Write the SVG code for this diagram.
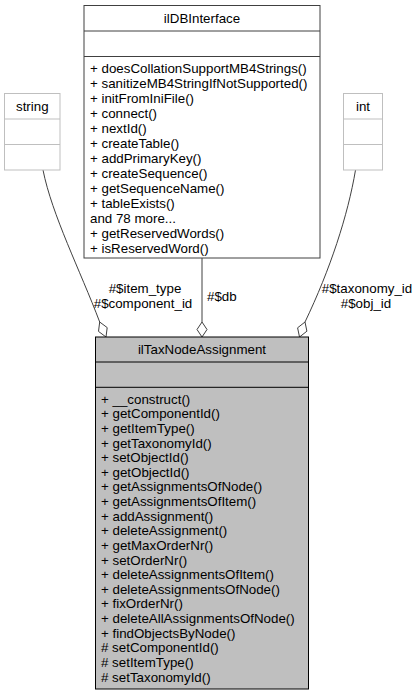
<svg xmlns="http://www.w3.org/2000/svg" width="418" height="697" viewBox="0 0 418 697">
<style>
text{font-family:"Liberation Sans",Arial,Helvetica,sans-serif;font-size:13.33px;fill:#000}
.c{text-anchor:middle}
.edge{fill:none;stroke:#404040;stroke-width:1}
.dia{fill:#fff;stroke:#404040;stroke-width:1}
.gray{fill:#fff;stroke:#bfbfbf;stroke-width:1}
</style>
<rect width="418" height="697" fill="#fff"/>
<g id="connectors">
<path class="edge" d="M43,170 C52,215 80,270 99.7,322"/>
<polygon class="dia" points="99.7,322 107.2,327.6 106,337 98.5,331.4"/>
<line class="edge" x1="202" y1="258" x2="202" y2="322"/>
<polygon class="dia" points="202,322 207,329.5 202,337 197,329.5"/>
<path class="edge" d="M355.5,170 C348,215 330,270 305,322"/>
<polygon class="dia" points="305,322 306.9,331.2 299.5,337 297.6,327.8"/>
<text class="c" x="145" y="292.8">#$item_type</text>
<text class="c" x="143" y="307.8">#$component_id</text>
<text x="207" y="301">#$db</text>
<text class="c" x="367" y="292.8">#$taxonomy_id</text>
<text class="c" x="366" y="307.8">#$obj_id</text>
</g>
<g id="string">
<rect class="gray" x="4.5" y="93.5" width="55.5" height="76.5"/>
<line class="gray" x1="4.5" y1="119" x2="60" y2="119"/>
<line class="gray" x1="4.5" y1="144.5" x2="60" y2="144.5"/>
<text class="c" x="32.3" y="110.8">string</text>
</g>
<g id="int">
<rect class="gray" x="343.5" y="93.5" width="39" height="76.5"/>
<line class="gray" x1="343.5" y1="119" x2="382.5" y2="119"/>
<line class="gray" x1="343.5" y1="144.5" x2="382.5" y2="144.5"/>
<text class="c" x="363" y="110.8">int</text>
</g>
<g id="ilDBInterface">
<rect x="84" y="5.5" width="236" height="252.5" fill="#fff" stroke="#404040"/>
<line x1="84" y1="31" x2="320" y2="31" stroke="#404040"/>
<line x1="84" y1="56.5" x2="320" y2="56.5" stroke="#404040"/>
<text class="c" x="202" y="23">ilDBInterface</text>
<text x="90" y="72.6">+ doesCollationSupportMB4Strings()</text>
<text x="90" y="87.6">+ sanitizeMB4StringIfNotSupported()</text>
<text x="90" y="102.7">+ initFromIniFile()</text>
<text x="90" y="117.7">+ connect()</text>
<text x="90" y="132.8">+ nextId()</text>
<text x="90" y="147.8">+ createTable()</text>
<text x="90" y="162.9">+ addPrimaryKey()</text>
<text x="90" y="177.9">+ createSequence()</text>
<text x="90" y="193">+ getSequenceName()</text>
<text x="90" y="208">+ tableExists()</text>
<text x="90" y="223.1">and 78 more...</text>
<text x="90" y="238.1">+ getReservedWords()</text>
<text x="90" y="253.2">+ isReservedWord()</text>
</g>
<g id="ilTaxNodeAssignment">
<rect x="95.5" y="337" width="213" height="352" fill="#bfbfbf" stroke="#000"/>
<line x1="95.5" y1="362" x2="308.5" y2="362" stroke="#000"/>
<line x1="95.5" y1="387.3" x2="308.5" y2="387.3" stroke="#000"/>
<text class="c" x="202" y="354">ilTaxNodeAssignment</text>
<text x="101" y="403.6">+ __construct()</text>
<text x="101" y="418.2">+ getComponentId()</text>
<text x="101" y="432.9">+ getItemType()</text>
<text x="101" y="447.5">+ getTaxonomyId()</text>
<text x="101" y="462.1">+ setObjectId()</text>
<text x="101" y="476.8">+ getObjectId()</text>
<text x="101" y="491.4">+ getAssignmentsOfNode()</text>
<text x="101" y="506">+ getAssignmentsOfItem()</text>
<text x="101" y="520.6">+ addAssignment()</text>
<text x="101" y="535.3">+ deleteAssignment()</text>
<text x="101" y="549.9">+ getMaxOrderNr()</text>
<text x="101" y="564.5">+ setOrderNr()</text>
<text x="101" y="579.2">+ deleteAssignmentsOfItem()</text>
<text x="101" y="593.8">+ deleteAssignmentsOfNode()</text>
<text x="101" y="608.4">+ fixOrderNr()</text>
<text x="101" y="623.1">+ deleteAllAssignmentsOfNode()</text>
<text x="101" y="637.7">+ findObjectsByNode()</text>
<text x="101" y="652.3">&#35; setComponentId()</text>
<text x="101" y="667">&#35; setItemType()</text>
<text x="101" y="681.6">&#35; setTaxonomyId()</text>
</g>
</svg>
